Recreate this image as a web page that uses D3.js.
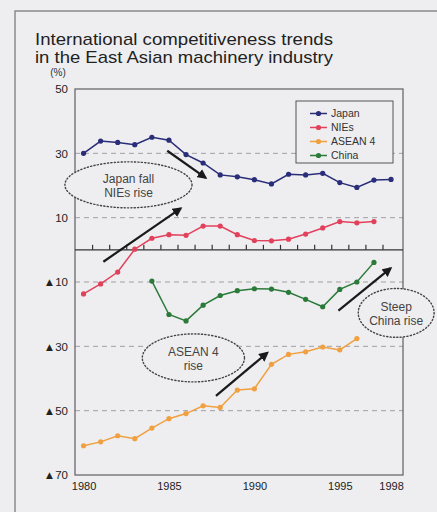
<!DOCTYPE html>
<html>
<head>
<meta charset="utf-8">
<script src="https://cdn.jsdelivr.net/npm/d3@7/dist/d3.min.js"></script>
<style>
  html, body { margin: 0; padding: 0; background: #eeeef0; }
  svg { display: block; font-family: "Liberation Sans", Arial, Helvetica, sans-serif; }
</style>
</head>
<body>
<svg id="chart" width="437" height="512"></svg>
<script>
// Competitiveness index by region (%), negative values shown with ▲
const japanYears = d3.range(1980, 1999);
const japanValues = [30.0, 33.8, 33.4, 32.7, 35.0, 34.1, 29.6, 27.0, 23.3, 22.7, 21.8, 20.5, 23.5, 23.3, 23.8, 20.9, 19.4, 21.7, 21.9];

const niesYears = d3.range(1980, 1998);
const niesValues = [-13.7, -10.6, -6.9, 0.2, 3.6, 4.7, 4.5, 7.4, 7.4, 4.7, 2.9, 2.8, 3.3, 4.9, 6.8, 8.8, 8.4, 8.8];

const aseanYears = d3.range(1980, 1997);
const aseanValues = [-60.9, -59.7, -57.8, -58.7, -55.4, -52.5, -50.9, -48.5, -49.0, -43.6, -43.2, -35.6, -32.5, -31.7, -30.2, -31.1, -27.6];

const chinaYears = d3.range(1984, 1998);
const chinaValues = [-9.7, -20.1, -22.1, -17.2, -14.2, -12.7, -12.1, -12.2, -13.2, -15.4, -17.7, -12.3, -10.0, -3.9];

const yTicks = [50, 30, 10, -10, -30, -50, -70];
const xTickLabels = [1980, 1985, 1990, 1995, 1998];

const seriesNames = ["Japan", "NIEs", "ASEAN 4", "China"];
const seriesColors = ["#2a2d78", "#e2415c", "#f0a040", "#2a7a3a"];

const titleLines = ["International competitiveness trends", "in the East Asian machinery industry"];

// Annotation arrows and ellipses in data units [year, value]
const arrows = [
  [[1984.9, 30.8], [1987.15, 22.4]],
  [[1981.16, -3.7], [1985.69, 12.9]],
  [[1987.75, -45.4], [1990.76, -32.0]],
  [[1994.92, -18.9], [1997.98, -5.7]]
];
const callouts = [
  { cx: 1982.63, cy: 20.2, rx: 3.72, ry: 7.15, lines: ["Japan fall", "NIEs rise"] },
  { cx: 1986.43, cy: -33.6, rx: 2.99, ry: 7.46, lines: ["ASEAN 4", "rise"] },
  { cx: 1998.3, cy: -19.6, rx: 2.22, ry: 7.6, lines: ["Steep", "China rise"] }
];

const bg = "#eeeef0";
const svg = d3.select("#chart");

const margin = { left: 75, right: 403, top: 89, bottom: 475 };
const x = d3.scaleLinear().domain([1979.5, 1998.7]).range([margin.left, margin.right]);
const y = d3.scaleLinear().domain([-70, 50]).range([margin.bottom, margin.top]);

// Outer frame
svg.append("path")
  .attr("d", "M15,520 L15,11 L445,11")
  .attr("fill", "none").attr("stroke", "#8a8a8e").attr("stroke-width", 1.5);

// Title, two lines
const title = svg.append("text").attr("fill", "#222").attr("font-size", 16.2);
titleLines.forEach((ln, k) => {
  title.append("tspan").attr("x", 35).attr("y", 45 + k * 18)
    .attr("textLength", 298).attr("lengthAdjust", "spacingAndGlyphs").text(ln);
});

svg.append("text").attr("x", 58).attr("y", 76).attr("text-anchor", "middle")
  .attr("font-size", 10).attr("fill", "#333").text("(%)");

// Dashed grid lines
svg.append("g").selectAll("line")
  .data(yTicks.filter(v => v !== 50 && v !== -70))
  .join("line")
  .attr("x1", margin.left).attr("x2", margin.right)
  .attr("y1", d => y(d)).attr("y2", d => y(d))
  .attr("stroke", "#a0a0a4").attr("stroke-width", 1).attr("stroke-dasharray", "5,4");

// Y axis labels
const yAxis = d3.axisLeft(y).tickValues(yTicks).tickSize(0).tickPadding(7)
  .tickFormat(v => v < 0 ? "\u25B2" + Math.abs(v) : String(v));
const yg = svg.append("g").attr("transform", `translate(${margin.left},0)`).call(yAxis);
yg.select(".domain").remove();
yg.selectAll("text").attr("font-size", 11.5).attr("fill", "#222")
  .attr("font-family", "'Liberation Sans', Arial, sans-serif");

// X axis labels
const xAxis = d3.axisBottom(x).tickValues(xTickLabels).tickSize(0).tickPadding(7).tickFormat(d3.format("d"));
const xg = svg.append("g").attr("transform", `translate(0,${margin.bottom})`).call(xAxis);
xg.select(".domain").remove();
xg.selectAll("text").attr("font-size", 11).attr("fill", "#222")
  .attr("font-family", "'Liberation Sans', Arial, sans-serif");

// Plot frame
svg.append("rect")
  .attr("x", margin.left).attr("y", margin.top)
  .attr("width", margin.right - margin.left).attr("height", margin.bottom - margin.top)
  .attr("fill", "none").attr("stroke", "#6a6a6e").attr("stroke-width", 1.3);

// Zero line with year ticks
const zeroAxis = d3.axisTop(x).tickValues(d3.range(1980.5, 1998, 1)).tickSize(5).tickFormat("");
const zg = svg.append("g").attr("transform", `translate(0,${y(0)})`).call(zeroAxis);
zg.select(".domain").attr("d", `M${margin.left},0H${margin.right}`).attr("stroke", "#333").attr("stroke-width", 1.3);
zg.selectAll(".tick line").attr("stroke", "#333").attr("stroke-width", 1.2);

// Series
const series = [
  { years: japanYears, values: japanValues },
  { years: niesYears, values: niesValues },
  { years: aseanYears, values: aseanValues },
  { years: chinaYears, values: chinaValues }
];
const line = d3.line().x(d => x(d[0])).y(d => y(d[1]));

series.forEach((s, i) => {
  const pts = s.years.map((yr, j) => [yr, s.values[j]]);
  const g = svg.append("g");
  g.append("path").datum(pts).attr("d", line)
    .attr("fill", "none").attr("stroke", seriesColors[i]).attr("stroke-width", 1.5);
  g.selectAll("circle").data(pts).join("circle")
    .attr("cx", d => x(d[0])).attr("cy", d => y(d[1])).attr("r", 2.6)
    .attr("fill", seriesColors[i]);
});

// Arrows
svg.append("defs").append("marker")
  .attr("id", "arrowhead").attr("viewBox", "0 0 10 10")
  .attr("refX", 8).attr("refY", 5)
  .attr("markerWidth", 4.5).attr("markerHeight", 4.5)
  .attr("orient", "auto")
  .append("path").attr("d", "M0,0 L10,5 L0,10 Z").attr("fill", "#1a1a1a");

svg.append("g").selectAll("line").data(arrows).join("line")
  .attr("x1", d => x(d[0][0])).attr("y1", d => y(d[0][1]))
  .attr("x2", d => x(d[1][0])).attr("y2", d => y(d[1][1]))
  .attr("stroke", "#1a1a1a").attr("stroke-width", 2.2)
  .attr("marker-end", "url(#arrowhead)");

// Callout ellipses
const cg = svg.append("g").selectAll("g").data(callouts).join("g");
cg.append("ellipse")
  .attr("cx", d => x(d.cx)).attr("cy", d => y(d.cy))
  .attr("rx", d => x(d.cx + d.rx) - x(d.cx))
  .attr("ry", d => y(d.cy - d.ry) - y(d.cy))
  .attr("fill", bg).attr("stroke", "#444").attr("stroke-width", 1.4)
  .attr("stroke-dasharray", "1.2,2.2").attr("stroke-linecap", "round");
cg.each(function(d) {
  const t = d3.select(this).append("text")
    .attr("text-anchor", "middle").attr("font-size", 12).attr("fill", "#444");
  d.lines.forEach((ln, k) => {
    t.append("tspan").attr("x", x(d.cx)).attr("y", y(d.cy) - 2 + k * 14).text(ln);
  });
});

// Legend
const legend = svg.append("g");
legend.append("rect").attr("x", 296).attr("y", 101).attr("width", 97).attr("height", 62)
  .attr("fill", bg).attr("stroke", "#555").attr("stroke-width", 1);
seriesNames.forEach((name, i) => {
  const ly = 113.5 + i * 14;
  legend.append("line").attr("x1", 310).attr("x2", 327).attr("y1", ly).attr("y2", ly)
    .attr("stroke", seriesColors[i]).attr("stroke-width", 1.5);
  legend.append("circle").attr("cx", 318.5).attr("cy", ly).attr("r", 2.6).attr("fill", seriesColors[i]);
  legend.append("text").attr("x", 331).attr("y", ly + 3.8)
    .attr("font-size", 10.5).attr("fill", "#333").text(name);
});
</script>
</body>
</html>
